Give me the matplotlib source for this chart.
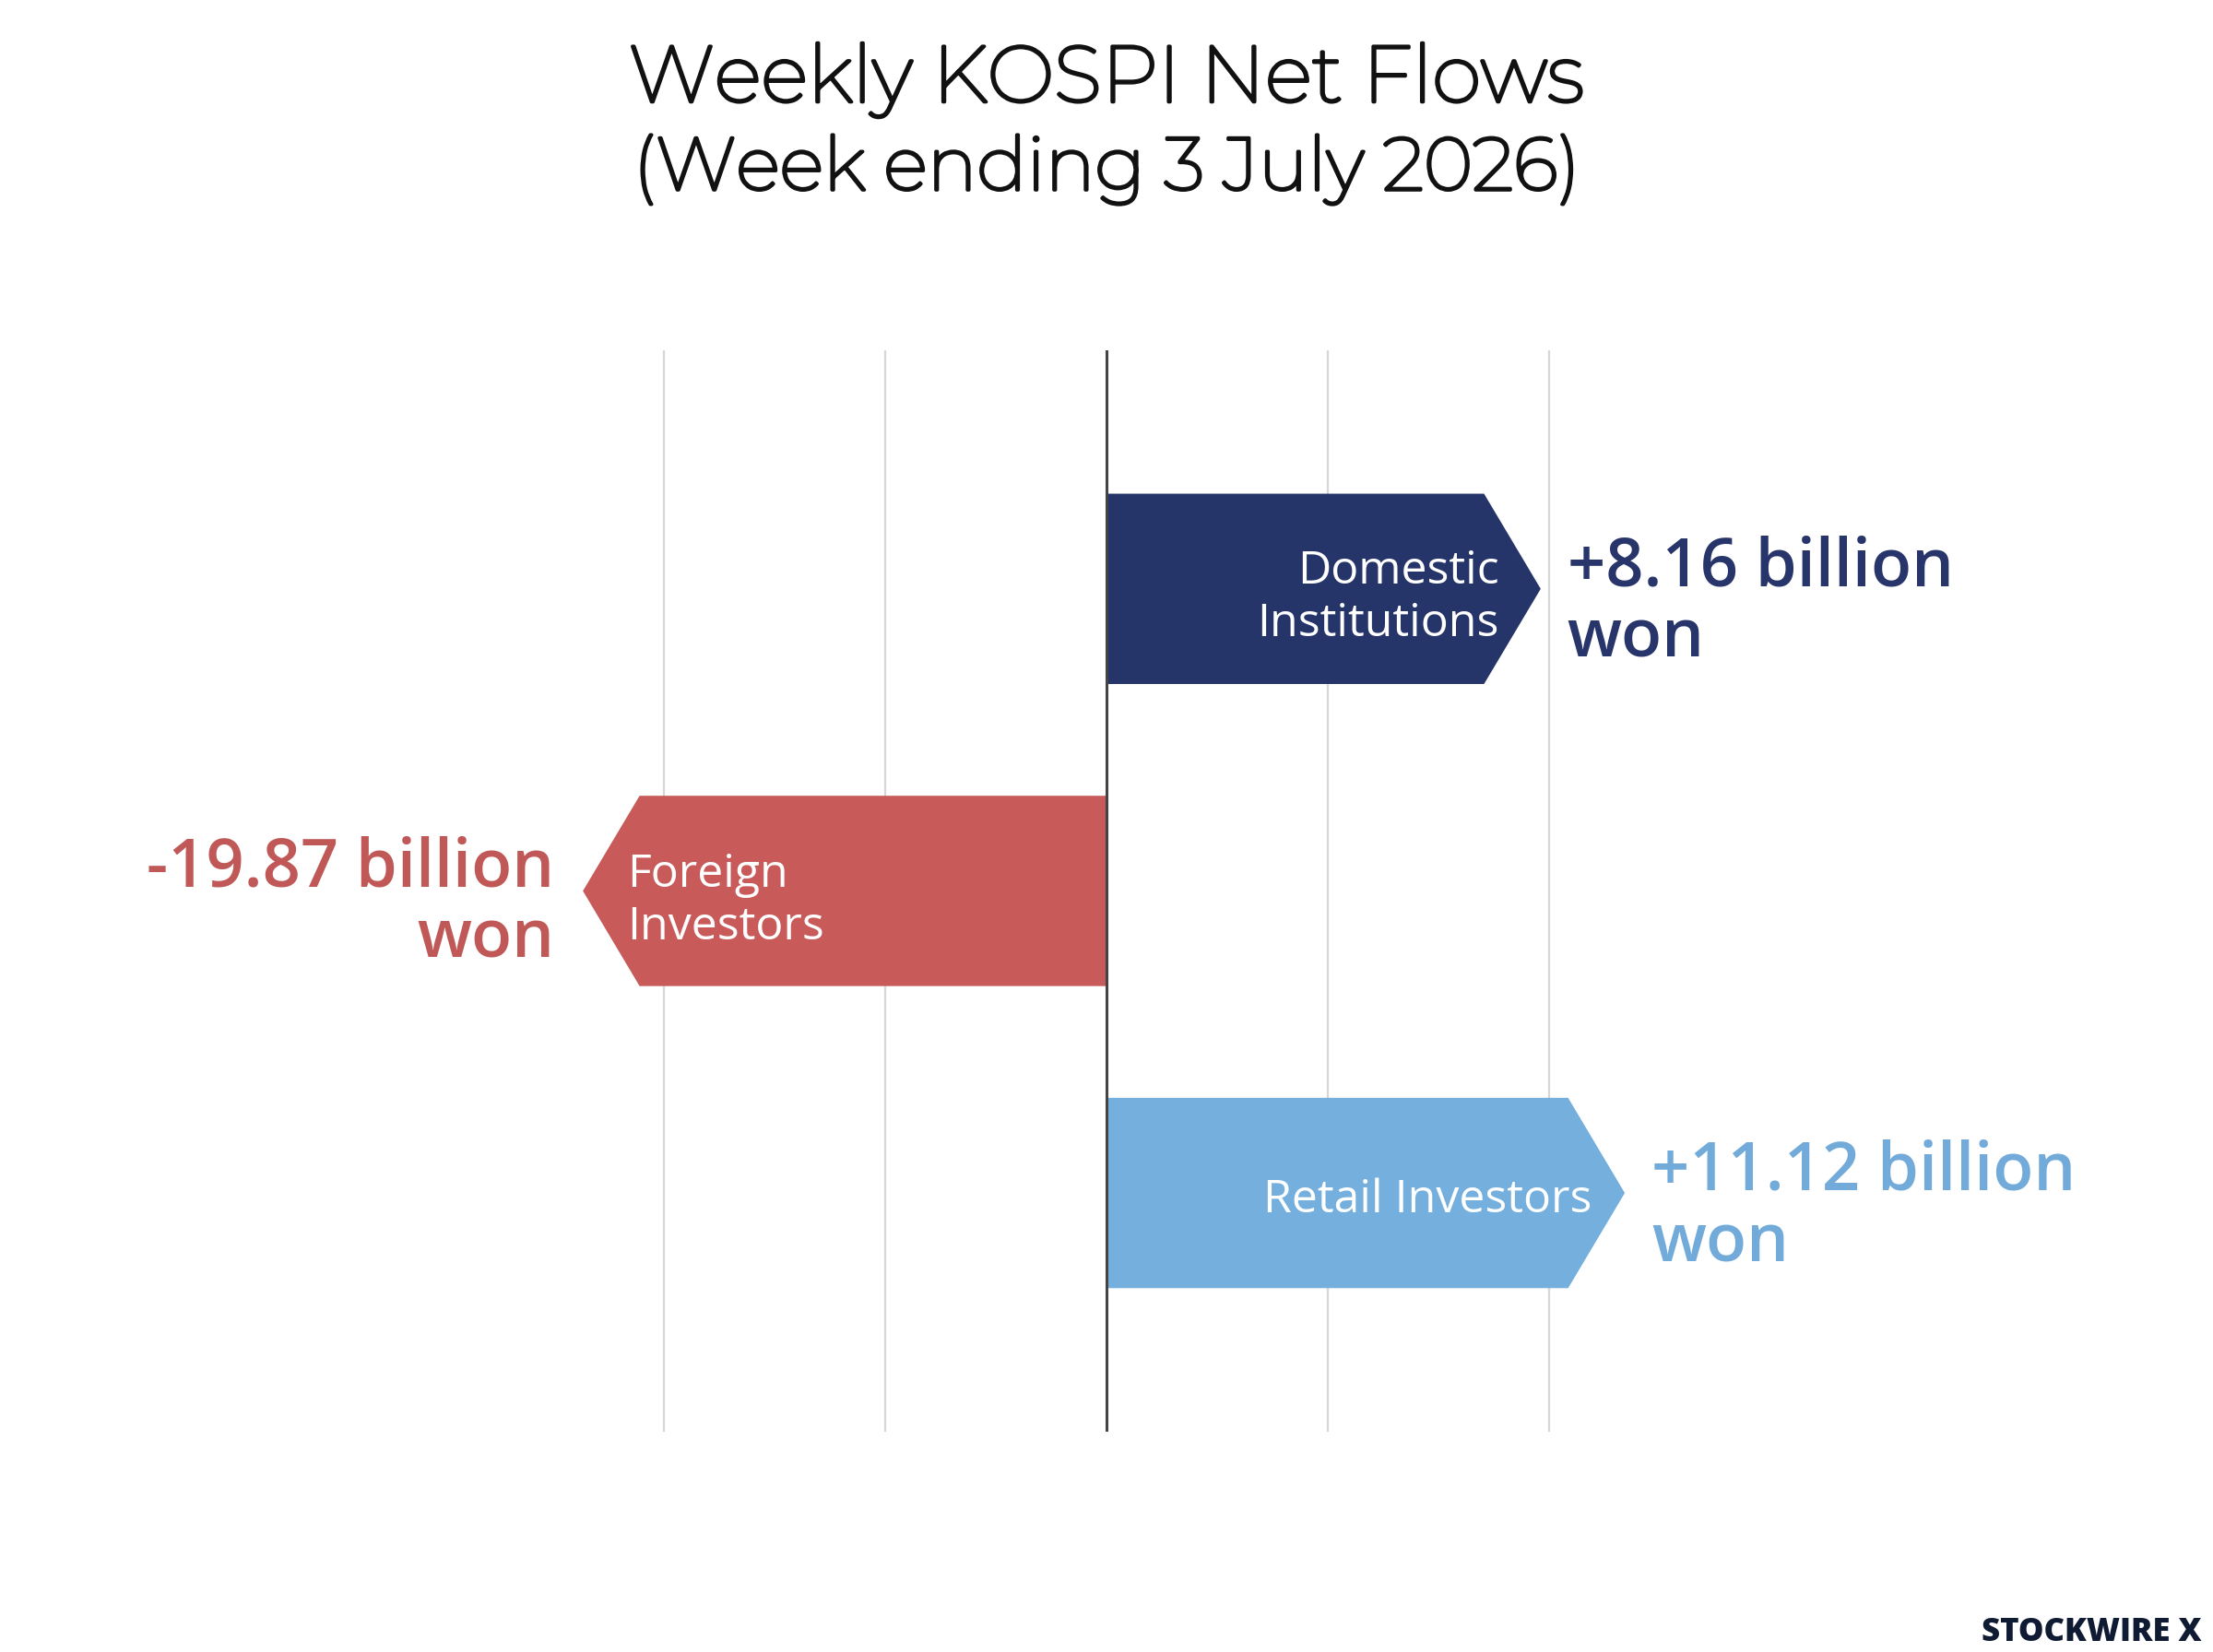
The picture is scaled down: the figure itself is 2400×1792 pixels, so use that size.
import matplotlib.pyplot as plt
import matplotlib.patheffects as pe
from matplotlib.patches import Polygon

# Data
categories = ["Domestic\nInstitutions", "Foreign\nInvestors", "Retail Investors"]
net_flows = [8.16, -19.87, 11.12]          # billion won (label values)
bar_extent = [9.81, -11.83, 11.71]         # drawn arrow tip, chart units (not to scale in source)
value_labels = ["+8.16 billion\nwon", "-19.87 billion\nwon", "+11.12 billion\nwon"]
grid_ticks = [-10, -5, 0, 5, 10]

BAR_COLORS = ["#263569", "#c85a5a", "#74afdd"]
VALUE_COLORS = ["#27356a", "#c05858", "#72abda"]
TEXT_FONT = ["Open Sans", "DejaVu Sans"]
TITLE_FONT = ["Montserrat", "Lato", "DejaVu Sans"]

HEAD = 1.28        # arrow head length, chart units
BAR_H = 0.63

fig = plt.figure(figsize=(12, 8.96), dpi=200, facecolor="white")
ax = fig.add_axes([0.0, 0.1334, 1.0, 0.6546])
ax.set_xlim(-25, 25)
ax.set_ylim(2.79, -0.79)
ax.axis("off")

for gx in grid_ticks:
    if gx == 0:
        ax.axvline(gx, color="#444444", lw=1.1, zorder=3)
    else:
        ax.axvline(gx, color="#d6d6d6", lw=0.8, zorder=0)

for i, (cat, tip, vlab) in enumerate(zip(categories, bar_extent, value_labels)):
    sign = 1 if tip > 0 else -1
    body = tip - sign * HEAD
    top, bot = i - BAR_H / 2, i + BAR_H / 2
    pts = [(0, top), (body, top), (tip, i), (body, bot), (0, bot)]
    ax.add_patch(Polygon(pts, closed=True, facecolor=BAR_COLORS[i],
                         edgecolor="none", zorder=2))

    if sign > 0:
        two_line = "\n" in cat
        ax.text(tip - 0.95 if two_line else tip - 0.75,
                i + (0.03 if two_line else 0.025), cat,
                ha="right", va="center", color="white", fontsize=18,
                family=TEXT_FONT, linespacing=1.2, zorder=4)
        ax.text(tip + 0.6, i + 0.05, vlab, ha="left", va="center",
                color=VALUE_COLORS[i], fontsize=26, fontweight="semibold",
                family=TEXT_FONT, linespacing=1.1, zorder=4)
    else:
        ax.text(tip + 1.0, i + 0.035, cat, ha="left", va="center",
                color="white", fontsize=18, family=TEXT_FONT,
                linespacing=1.2, zorder=4)
        ax.text(tip - 0.65, i + 0.045, vlab, ha="right", va="center",
                color=VALUE_COLORS[i], fontsize=26, fontweight="semibold",
                family=TEXT_FONT, linespacing=1.1, multialignment="right",
                zorder=4)

# Montserrat here is a light cut; a thin stroke brings it to regular weight
thicken = [pe.withStroke(linewidth=1.3, foreground="#111111")]
fig.text(0.5, 1 - 87 / 1792, "Weekly KOSPI Net Flows", ha="center", va="center",
         fontsize=31, color="#111111", family=TITLE_FONT, path_effects=thicken)
fig.text(0.5, 1 - 184 / 1792, "(Week ending 3 July 2026)", ha="center", va="center",
         fontsize=29, color="#111111", family=TITLE_FONT, path_effects=thicken)

fig.text(0.995, 1 - 1771 / 1792, "STOCKWIRE X", ha="right", va="center",
         fontsize=12.5, fontweight="heavy", color="#0f1a33",
         family=["Open Sans", "DejaVu Sans"])

fig.savefig("out.png", dpi=200, facecolor="white")
